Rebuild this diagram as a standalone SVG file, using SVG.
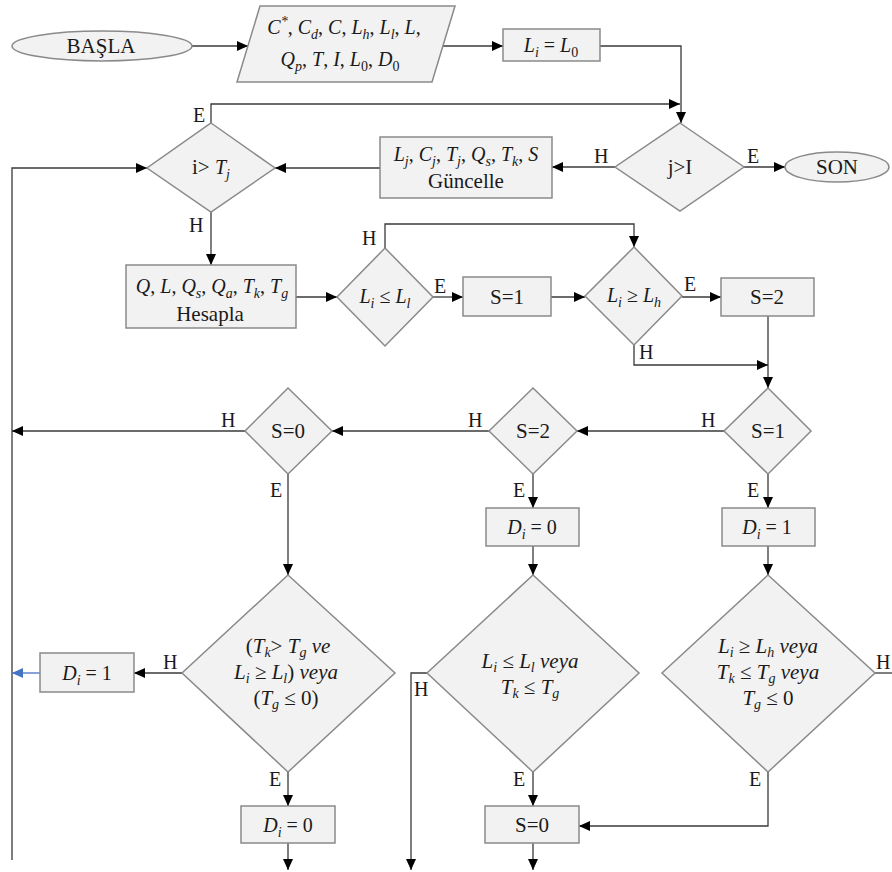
<svg xmlns="http://www.w3.org/2000/svg" width="892" height="872" viewBox="0 0 892 872">
<style>
  .node { fill: #f2f2f2; stroke: #8a8a8a; stroke-width: 1.5; }
  .t { font-family: "Liberation Serif", "Times New Roman", serif; font-size: 21px; fill: #1a1a1a; }
  .m { font-family: "Liberation Serif", "Times New Roman", serif; font-size: 20px; font-style: italic; fill: #1a1a1a; }
  .mb { font-size: 21px; }
  .r { font-style: normal; }
  .sb { font-size: 14px; }
  .lbl { font-family: "Liberation Serif", "Times New Roman", serif; font-size: 20px; fill: #1a1a1a; }
  .c { fill: none; stroke: #3a3a3a; stroke-width: 1.3; }
  .cb { fill: none; stroke: #4472c4; stroke-width: 1.3; }
</style>
<defs>
  <marker id="ah" markerUnits="userSpaceOnUse" markerWidth="12" markerHeight="10" refX="11" refY="5" orient="auto">
    <path d="M0,0 L11,5 L0,10 Z" fill="#000"/>
  </marker>
  <marker id="ahb" markerUnits="userSpaceOnUse" markerWidth="12" markerHeight="10" refX="11" refY="5" orient="auto">
    <path d="M0,0 L11,5 L0,10 Z" fill="#4472c4"/>
  </marker>
</defs>
<rect width="892" height="872" fill="#ffffff"/>

<!-- connectors -->
<g id="connectors">
  <line class="c" x1="192" y1="46" x2="248" y2="46" marker-end="url(#ah)"/>
  <line class="c" x1="443" y1="46" x2="503" y2="46" marker-end="url(#ah)"/>
  <polyline class="c" points="600,46 681,46 681,123" marker-end="url(#ah)"/>
  <polyline class="c" points="211,123 211,104 680,104" marker-end="url(#ah)"/>
  <line class="c" x1="744" y1="167" x2="785" y2="167" marker-end="url(#ah)"/>
  <line class="c" x1="615" y1="167" x2="552" y2="167" marker-end="url(#ah)"/>
  <line class="c" x1="380" y1="168" x2="275" y2="168" marker-end="url(#ah)"/>
  <polyline class="c" points="12,860 12,168 147,168" marker-end="url(#ah)"/>
  <line class="c" x1="211" y1="212" x2="211" y2="265" marker-end="url(#ah)"/>
  <line class="c" x1="296" y1="297" x2="337" y2="297" marker-end="url(#ah)"/>
  <polyline class="c" points="385,248 385,224 634,224 634,247" marker-end="url(#ah)"/>
  <line class="c" x1="433" y1="297" x2="463" y2="297" marker-end="url(#ah)"/>
  <line class="c" x1="551" y1="297" x2="585" y2="297" marker-end="url(#ah)"/>
  <line class="c" x1="682" y1="297" x2="721" y2="297" marker-end="url(#ah)"/>
  <line class="c" x1="768" y1="316" x2="768" y2="388" marker-end="url(#ah)"/>
  <polyline class="c" points="634,345 634,365 768,365" marker-end="url(#ah)"/>
  <line class="c" x1="724" y1="431" x2="577" y2="431" marker-end="url(#ah)"/>
  <line class="c" x1="489" y1="431" x2="332" y2="431" marker-end="url(#ah)"/>
  <line class="c" x1="245" y1="431" x2="12" y2="431" marker-end="url(#ah)"/>
  <line class="c" x1="288" y1="474" x2="288" y2="575" marker-end="url(#ah)"/>
  <line class="c" x1="533" y1="474" x2="533" y2="508" marker-end="url(#ah)"/>
  <line class="c" x1="768" y1="474" x2="768" y2="508" marker-end="url(#ah)"/>
  <line class="c" x1="533" y1="546" x2="533" y2="575" marker-end="url(#ah)"/>
  <line class="c" x1="768" y1="546" x2="768" y2="575" marker-end="url(#ah)"/>
  <line class="c" x1="875" y1="673" x2="892" y2="673"/>
  <polyline class="c" points="768,772 768,826 579,826" marker-end="url(#ah)"/>
  <line class="c" x1="533" y1="772" x2="533" y2="806" marker-end="url(#ah)"/>
  <line class="c" x1="533" y1="843" x2="533" y2="870" marker-end="url(#ah)"/>
  <polyline class="c" points="427,673 411,673 411,870" marker-end="url(#ah)"/>
  <line class="c" x1="288" y1="772" x2="288" y2="806" marker-end="url(#ah)"/>
  <line class="c" x1="288" y1="843" x2="288" y2="870" marker-end="url(#ah)"/>
  <line class="c" x1="182" y1="673" x2="134" y2="673" marker-end="url(#ah)"/>
  <line class="cb" x1="40" y1="673" x2="12" y2="673" marker-end="url(#ahb)"/>

  <!-- branch labels -->
  <text class="lbl" x="193" y="122">E</text>
  <text class="lbl" x="747" y="163">E</text>
  <text class="lbl" x="594" y="163">H</text>
  <text class="lbl" x="189" y="232">H</text>
  <text class="lbl" x="362" y="245">H</text>
  <text class="lbl" x="434" y="293">E</text>
  <text class="lbl" x="684" y="291">E</text>
  <text class="lbl" x="639" y="359">H</text>
  <text class="lbl" x="701" y="427">H</text>
  <text class="lbl" x="468" y="427">H</text>
  <text class="lbl" x="221" y="427">H</text>
  <text class="lbl" x="270" y="497">E</text>
  <text class="lbl" x="513" y="497">E</text>
  <text class="lbl" x="747" y="497">E</text>
  <text class="lbl" x="163" y="669">H</text>
  <text class="lbl" x="876" y="669">H</text>
  <text class="lbl" x="414" y="696">H</text>
  <text class="lbl" x="269" y="786">E</text>
  <text class="lbl" x="513" y="786">E</text>
  <text class="lbl" x="749" y="786">E</text>
</g>

<g id="start">
  <ellipse class="node" cx="102" cy="46" rx="90" ry="15"/>
  <text class="t" x="101" y="53" text-anchor="middle">BAŞLA</text>
</g>

<g id="input">
  <polygon class="node" points="260,6 455,6 432,82 237,82"/>
  <text class="m" x="344" y="34" text-anchor="middle">C<tspan class="sb" dy="-8">*</tspan><tspan class="r" dy="8">, </tspan>C<tspan class="sb" dy="5">d</tspan><tspan class="r" dy="-5">, </tspan>C<tspan class="r">, </tspan>L<tspan class="sb" dy="5">h</tspan><tspan class="r" dy="-5">, </tspan>L<tspan class="sb" dy="5">l</tspan><tspan class="r" dy="-5">, </tspan>L<tspan class="r">,</tspan></text>
  <text class="m" x="340" y="66" text-anchor="middle">Q<tspan class="sb" dy="5">p</tspan><tspan class="r" dy="-5">, </tspan>T<tspan class="r">, </tspan>I<tspan class="r">, </tspan>L<tspan class="sb r" dy="5">0</tspan><tspan class="r" dy="-5">, </tspan>D<tspan class="sb r" dy="5">0</tspan></text>
</g>

<g id="init">
  <rect class="node" x="503" y="29" width="97" height="32"/>
  <text class="m" x="551" y="52" text-anchor="middle">L<tspan class="sb" dy="5">i</tspan><tspan class="r" dy="-5"> = </tspan>L<tspan class="sb r" dy="5">0</tspan></text>
</g>

<g id="check-j">
  <polygon class="node" points="680,123 744,167 680,211 615,167"/>
  <text class="t" x="680" y="174" text-anchor="middle">j&gt;I</text>
</g>

<g id="end">
  <ellipse class="node" cx="837" cy="167" rx="52" ry="15"/>
  <text class="t" x="837" y="174" text-anchor="middle">SON</text>
</g>

<g id="update">
  <rect class="node" x="380" y="137" width="172" height="61"/>
  <text class="m" x="466" y="161" text-anchor="middle">L<tspan class="sb" dy="5">j</tspan><tspan class="r" dy="-5">, </tspan>C<tspan class="sb" dy="5">j</tspan><tspan class="r" dy="-5">, </tspan>T<tspan class="sb" dy="5">j</tspan><tspan class="r" dy="-5">, </tspan>Q<tspan class="sb" dy="5">s</tspan><tspan class="r" dy="-5">, </tspan>T<tspan class="sb" dy="5">k</tspan><tspan class="r" dy="-5">, </tspan>S</text>
  <text class="t" x="466" y="188" text-anchor="middle">Güncelle</text>
</g>

<g id="check-i">
  <polygon class="node" points="211,123 275,168 211,212 147,168"/>
  <text class="t" x="211" y="174" text-anchor="middle">i&gt; <tspan class="m">T</tspan><tspan class="m sb" dy="5">j</tspan></text>
</g>

<g id="compute">
  <rect class="node" x="126" y="265" width="170" height="63"/>
  <text class="m" x="212" y="293" text-anchor="middle">Q<tspan class="r">, </tspan>L<tspan class="r">, </tspan>Q<tspan class="sb" dy="5">s</tspan><tspan class="r" dy="-5">, </tspan>Q<tspan class="sb" dy="5">a</tspan><tspan class="r" dy="-5">, </tspan>T<tspan class="sb" dy="5">k</tspan><tspan class="r" dy="-5">, </tspan>T<tspan class="sb" dy="5">g</tspan></text>
  <text class="t" x="210" y="321" text-anchor="middle">Hesapla</text>
</g>

<g id="check-low">
  <polygon class="node" points="385,248 433,297 385,346 337,297"/>
  <text class="m" x="385" y="303" text-anchor="middle">L<tspan class="sb" dy="5">i</tspan><tspan class="r" dy="-5"> ≤ </tspan>L<tspan class="sb" dy="5">l</tspan></text>
</g>

<g id="set-s1">
  <rect class="node" x="463" y="277" width="88" height="39"/>
  <text class="t" x="507" y="304" text-anchor="middle">S=1</text>
</g>

<g id="check-high">
  <polygon class="node" points="634,247 682,296 634,345 585,296"/>
  <text class="m" x="634" y="302" text-anchor="middle">L<tspan class="sb" dy="5">i</tspan><tspan class="r" dy="-5"> ≥ </tspan>L<tspan class="sb" dy="5">h</tspan></text>
</g>

<g id="set-s2">
  <rect class="node" x="721" y="278" width="93" height="38"/>
  <text class="t" x="767" y="304" text-anchor="middle">S=2</text>
</g>

<g id="is-s1">
  <polygon class="node" points="768,388 811,431 768,474 724,431"/>
  <text class="t" x="768" y="438" text-anchor="middle">S=1</text>
</g>

<g id="is-s2">
  <polygon class="node" points="533,388 577,431 533,474 489,431"/>
  <text class="t" x="533" y="438" text-anchor="middle">S=2</text>
</g>

<g id="is-s0">
  <polygon class="node" points="288,388 332,431 288,474 245,431"/>
  <text class="t" x="288" y="438" text-anchor="middle">S=0</text>
</g>

<g id="d-zero-mid">
  <rect class="node" x="486" y="508" width="93" height="38"/>
  <text class="m" x="532" y="534" text-anchor="middle">D<tspan class="sb" dy="5">i</tspan><tspan class="r" dy="-5"> = 0</tspan></text>
</g>

<g id="d-one-right">
  <rect class="node" x="722" y="508" width="93" height="38"/>
  <text class="m" x="767" y="534" text-anchor="middle">D<tspan class="sb" dy="5">i</tspan><tspan class="r" dy="-5"> = 1</tspan></text>
</g>

<g id="cond-left">
  <polygon class="node" points="288,575 395,673 288,772 182,673"/>
  <text class="m mb" x="288" y="653" text-anchor="middle"><tspan class="r">(</tspan>T<tspan class="sb" dy="4">k</tspan><tspan class="r" dy="-4">&gt;  </tspan>T<tspan class="sb" dy="4">g</tspan><tspan dy="-4"> ve</tspan></text>
  <text class="m mb" x="286" y="679" text-anchor="middle">L<tspan class="sb" dy="4">i</tspan><tspan class="r" dy="-4"> ≥ </tspan>L<tspan class="sb" dy="4">l</tspan><tspan class="r" dy="-4">) </tspan>veya</text>
  <text class="m mb" x="286" y="705" text-anchor="middle"><tspan class="r">(</tspan>T<tspan class="sb" dy="4">g</tspan><tspan class="r" dy="-4"> ≤ 0)</tspan></text>
</g>

<g id="cond-mid">
  <polygon class="node" points="533,575 639,673 533,772 427,673"/>
  <text class="m mb" x="530" y="668" text-anchor="middle">L<tspan class="sb" dy="4">i</tspan><tspan class="r" dy="-4"> ≤ </tspan>L<tspan class="sb" dy="4">l</tspan><tspan dy="-4"> veya</tspan></text>
  <text class="m mb" x="530" y="694" text-anchor="middle">T<tspan class="sb" dy="4">k</tspan><tspan class="r" dy="-4"> ≤ </tspan>T<tspan class="sb" dy="4">g</tspan></text>
</g>

<g id="cond-right">
  <polygon class="node" points="768,575 875,673 768,772 662,673"/>
  <text class="m mb" x="768" y="653" text-anchor="middle">L<tspan class="sb" dy="4">i</tspan><tspan class="r" dy="-4"> ≥ </tspan>L<tspan class="sb" dy="4">h</tspan><tspan dy="-4"> veya</tspan></text>
  <text class="m mb" x="768" y="679" text-anchor="middle">T<tspan class="sb" dy="4">k</tspan><tspan class="r" dy="-4"> ≤ </tspan>T<tspan class="sb" dy="4">g</tspan><tspan dy="-4"> veya</tspan></text>
  <text class="m mb" x="768" y="705" text-anchor="middle">T<tspan class="sb" dy="4">g</tspan><tspan class="r" dy="-4"> ≤  0</tspan></text>
</g>

<g id="d-one-left">
  <rect class="node" x="40" y="653" width="94" height="39"/>
  <text class="m" x="87" y="680" text-anchor="middle">D<tspan class="sb" dy="5">i</tspan><tspan class="r" dy="-5"> = 1</tspan></text>
</g>

<g id="d-zero-left">
  <rect class="node" x="241" y="806" width="94" height="37"/>
  <text class="m" x="288" y="832" text-anchor="middle">D<tspan class="sb" dy="5">i</tspan><tspan class="r" dy="-5"> = 0</tspan></text>
</g>

<g id="set-s0">
  <rect class="node" x="485" y="806" width="94" height="37"/>
  <text class="t" x="532" y="832" text-anchor="middle">S=0</text>
</g>
</svg>
